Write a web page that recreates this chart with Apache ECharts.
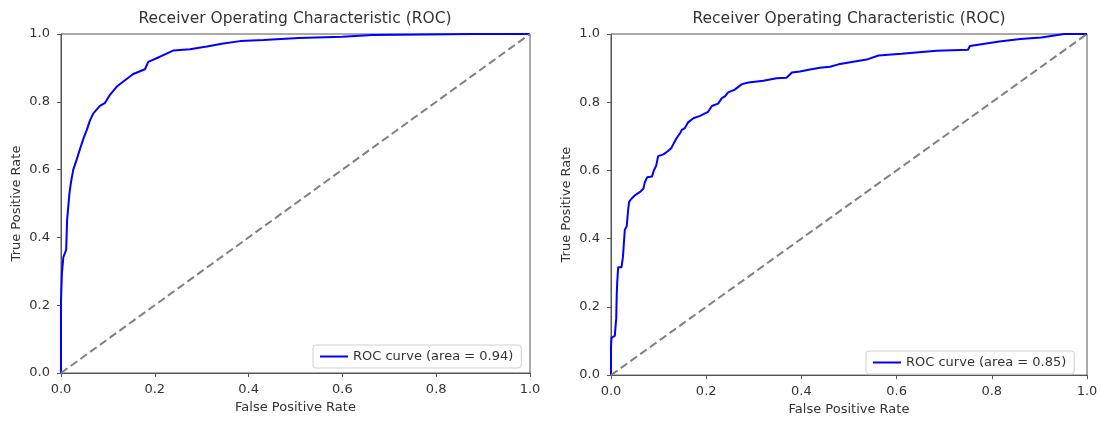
<!DOCTYPE html>
<html>
<head>
<meta charset="utf-8">
<title>ROC curves</title>
<script src="https://cdn.jsdelivr.net/npm/echarts@6/dist/echarts.min.js"></script>
<style>
  html, body { margin: 0; padding: 0; background: #fff; }
  #chart { width: 1101px; height: 421px; }
</style>
</head>
<body>
<div id="chart"></div>
<script>
// left model, area = 0.94
const fprA = [0, 0, 0.002, 0.005, 0.011, 0.013, 0.018, 0.021, 0.026, 0.033, 0.041, 0.048, 0.055, 0.062, 0.069, 0.083, 0.094, 0.104, 0.119, 0.133, 0.154, 0.179, 0.186, 0.211, 0.239, 0.275, 0.311, 0.346, 0.382, 0.432, 0.507, 0.6, 0.664, 0.88, 1.0]
const tprA = [0, 0.215, 0.295, 0.342, 0.363, 0.451, 0.53, 0.56, 0.599, 0.628, 0.663, 0.692, 0.717, 0.746, 0.766, 0.788, 0.797, 0.82, 0.845, 0.86, 0.882, 0.896, 0.918, 0.933, 0.951, 0.955, 0.963, 0.972, 0.979, 0.982, 0.988, 0.992, 0.997, 1.0, 1.0]

// right model, area = 0.85
const fprB = [0, 0, 0.001, 0.008, 0.011, 0.012, 0.013, 0.015, 0.022, 0.025, 0.027, 0.029, 0.033, 0.036, 0.038, 0.043, 0.05, 0.061, 0.068, 0.071, 0.076, 0.086, 0.09, 0.095, 0.099, 0.11, 0.12, 0.127, 0.132, 0.138, 0.145, 0.149, 0.155, 0.162, 0.173, 0.187, 0.204, 0.212, 0.225, 0.233, 0.24, 0.246, 0.26, 0.275, 0.289, 0.32, 0.348, 0.369, 0.38, 0.397, 0.418, 0.439, 0.46, 0.478, 0.537, 0.562, 0.61, 0.684, 0.75, 0.754, 0.816, 0.86, 0.904, 0.952, 1.0]
const tprB = [0, 0.081, 0.11, 0.115, 0.167, 0.235, 0.27, 0.316, 0.316, 0.345, 0.35, 0.426, 0.436, 0.484, 0.508, 0.517, 0.527, 0.537, 0.546, 0.565, 0.58, 0.582, 0.6, 0.614, 0.642, 0.647, 0.657, 0.666, 0.68, 0.695, 0.709, 0.719, 0.724, 0.741, 0.753, 0.76, 0.772, 0.789, 0.796, 0.812, 0.818, 0.829, 0.837, 0.853, 0.858, 0.863, 0.87, 0.872, 0.887, 0.89, 0.896, 0.901, 0.904, 0.911, 0.925, 0.937, 0.942, 0.951, 0.954, 0.965, 0.978, 0.985, 0.99, 1.0, 1.0]

const chanceLine = [[0, 0], [1, 1]]
const nameA = 'ROC curve (area = 0.94)'
const nameB = 'ROC curve (area = 0.85)'
const chartTitle = 'Receiver Operating Characteristic (ROC)'

const FONT = 'DejaVu Sans'
const TXT = '#333'
const FS = 13
const pairs = (xs, ys) => xs.map((x, i) => [x, ys[i]])

function makeX(idx) {
  return {
    type: 'value', gridIndex: idx, min: 0, max: 1, interval: 0.2,
    name: 'False Positive Rate', nameLocation: 'middle', nameGap: 27,
    nameTextStyle: { fontFamily: FONT, fontSize: FS, color: TXT },
    axisLine: { show: true, lineStyle: { color: '#555', width: 1 } },
    axisTick: { show: true, length: 4, lineStyle: { color: '#555' } },
    axisLabel: { fontFamily: FONT, fontSize: FS, color: TXT, margin: 10, formatter: v => v.toFixed(1) },
    splitLine: { show: false }
  }
}
function makeY(idx) {
  return {
    type: 'value', gridIndex: idx, min: 0, max: 1, interval: 0.2,
    name: 'True Positive Rate', nameLocation: 'middle', nameGap: 38,
    nameTextStyle: { fontFamily: FONT, fontSize: FS, color: TXT },
    axisLine: { show: true, lineStyle: { color: '#555', width: 1 } },
    axisTick: { show: true, length: 4, lineStyle: { color: '#555' } },
    axisLabel: { fontFamily: FONT, fontSize: FS, color: TXT, margin: 11, formatter: v => v.toFixed(1) },
    splitLine: { show: false }
  }
}
function makeLegend(name, left, top) {
  return {
    data: [name], left: left, top: top,
    orient: 'vertical', icon: 'rect', itemWidth: 28, itemHeight: 2,
    padding: [5, 8, 5, 7], borderColor: '#d0d0d0', borderWidth: 1, borderRadius: 3,
    backgroundColor: '#fff',
    textStyle: { fontFamily: FONT, fontSize: FS, color: TXT }
  }
}

const chart = echarts.init(document.getElementById('chart'))
const option = {
  animation: false,
  backgroundColor: '#fff',
  title: [
    { text: chartTitle, left: 295, top: 11, textAlign: 'center', padding: 0,
      textStyle: { fontFamily: FONT, fontSize: 15.5, fontWeight: 'normal', color: TXT } },
    { text: chartTitle, left: 849, top: 11, textAlign: 'center', padding: 0,
      textStyle: { fontFamily: FONT, fontSize: 15.5, fontWeight: 'normal', color: TXT } }
  ],
  legend: [
    makeLegend(nameA, 313, 345),
    makeLegend(nameB, 866, 351)
  ],
  grid: [
    { left: 61, top: 34, width: 469, height: 339, show: true, borderColor: '#555', borderWidth: 1, backgroundColor: 'transparent' },
    { left: 611, top: 34, width: 476, height: 347, show: true, borderColor: '#555', borderWidth: 1, backgroundColor: 'transparent' }
  ],
  xAxis: [makeX(0), makeX(1)],
  yAxis: [makeY(0), makeY(1)],
  series: [
    { name: nameA, type: 'line', xAxisIndex: 0, yAxisIndex: 0, data: pairs(fprA, tprA),
      showSymbol: false, symbol: 'none', color: '#0000ff', lineStyle: { color: '#0000ff', width: 2 }, z: 3 },
    { name: 'chanceA', type: 'line', xAxisIndex: 0, yAxisIndex: 0, data: chanceLine,
      showSymbol: false, symbol: 'none', lineStyle: { color: '#808080', width: 2, type: [8, 4] }, z: 4 },
    { name: nameB, type: 'line', xAxisIndex: 1, yAxisIndex: 1, data: pairs(fprB, tprB),
      showSymbol: false, symbol: 'none', color: '#0000ff', lineStyle: { color: '#0000ff', width: 2 }, z: 3 },
    { name: 'chanceB', type: 'line', xAxisIndex: 1, yAxisIndex: 1, data: chanceLine,
      showSymbol: false, symbol: 'none', lineStyle: { color: '#808080', width: 2, type: [8, 4] }, z: 4 }
  ]
}
chart.setOption(option)
</script>
</body>
</html>
